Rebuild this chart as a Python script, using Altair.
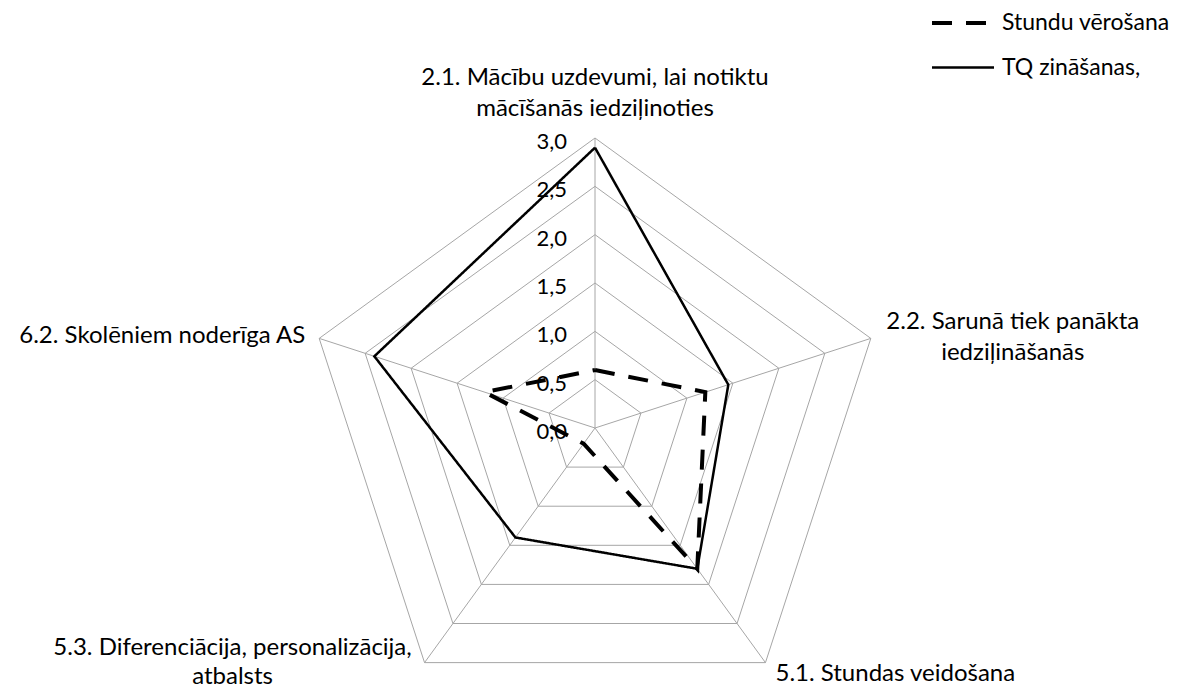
import altair as alt
import pandas as pd
import numpy as np

# ---- data ----
categories = [
    "2.1. Mācību uzdevumi, lai notiktu\nmācīšanās iedziļinoties",
    "2.2. Sarunā tiek panākta\niedziļināšanās",
    "5.1. Stundas veidošana",
    "5.3. Diferenciācija, personalizācija,\natbalsts",
    "6.2. Skolēniem noderīga AS",
]
series_names = ["Stundu vērošana", "TQ zināšanas,"]
stundu_verosana = [0.6, 1.2, 1.8, 0.2, 1.2]
tq_zinasanas = [2.9, 1.45, 1.8, 1.4, 2.4]
tick_values = [0.0, 0.5, 1.0, 1.5, 2.0, 2.5, 3.0]
tick_labels = ["0,0", "0,5", "1,0", "1,5", "2,0", "2,5", "3,0"]
r_max = 3.0

n = len(categories)
angles = [2 * np.pi * k / n for k in range(n)]


def polar(r, k):
    return r * np.sin(angles[k % n]), r * np.cos(angles[k % n])


# series polygons (closed)
rows = []
for name, vals in zip(series_names, [stundu_verosana, tq_zinasanas]):
    for i in range(n + 1):
        x, y = polar(vals[i % n], i)
        rows.append({"series": name, "order": i, "x": x, "y": y})
series_df = pd.DataFrame(rows)

# ring polygons
ring_rows = []
for t in tick_values[1:]:
    for i in range(n + 1):
        x, y = polar(t, i)
        ring_rows.append({"ring": t, "order": i, "x": x, "y": y})
ring_df = pd.DataFrame(ring_rows)

# spokes
spoke_rows = []
for k in range(n):
    x, y = polar(r_max, k)
    spoke_rows.append({"k": k, "x0": 0.0, "y0": 0.0, "x": x, "y": y})
spoke_df = pd.DataFrame(spoke_rows)

# tick labels
tick_df = pd.DataFrame({"x": [0.0] * len(tick_values), "y": tick_values, "label": tick_labels})

# category labels (anchored at axis end)
cat_rows = []
for k, c in enumerate(categories):
    x, y = polar(r_max, k)
    cat_rows.append({"k": k, "x": x, "y": y, "label": c})
cat_df = pd.DataFrame(cat_rows)

# ---- scales ----
px_per_unit = 290 / 3.0
W, H = 1172, 684
cx, cy = 587, 420
xs = alt.Scale(domain=[-cx / px_per_unit, (W - cx) / px_per_unit], nice=False, zero=False)
ys = alt.Scale(domain=[-(H - cy) / px_per_unit, cy / px_per_unit], nice=False, zero=False)

FONT = "Lato"
GRID = "#a6a6a6"
LABEL_SIZE = 24

rings = alt.Chart(ring_df).mark_line(color=GRID, strokeWidth=1).encode(
    x=alt.X("x:Q", scale=xs, axis=None),
    y=alt.Y("y:Q", scale=ys, axis=None),
    detail="ring:N",
    order="order:Q",
)

spokes = alt.Chart(spoke_df).mark_rule(color=GRID, strokeWidth=1).encode(
    x=alt.X("x0:Q", scale=xs, axis=None),
    y=alt.Y("y0:Q", scale=ys, axis=None),
    x2="x:Q",
    y2="y:Q",
)

legend_cfg = dict(
    title=None,
    orient="none",
    legendX=922,
    legendY=-18,
    symbolType="stroke",
    symbolSize=3844,
    symbolStrokeColor="black",
    labelFont=FONT,
    labelFontSize=23,
    labelColor="black",
    rowPadding=-4,
    labelOffset=6,
    labelLimit=300,
)

lines = alt.Chart(series_df).mark_line(color="black", strokeCap="butt").encode(
    x=alt.X("x:Q", scale=xs, axis=None),
    y=alt.Y("y:Q", scale=ys, axis=None),
    strokeDash=alt.StrokeDash(
        "series:N",
        scale=alt.Scale(domain=series_names, range=[[20, 14], [1, 0]]),
        legend=alt.Legend(**legend_cfg),
    ),
    strokeWidth=alt.StrokeWidth(
        "series:N",
        scale=alt.Scale(domain=series_names, range=[4, 2.5]),
        legend=alt.Legend(**legend_cfg),
    ),
    order="order:Q",
)

ticks = alt.Chart(tick_df).mark_text(
    align="right", baseline="middle", dx=-28, dy=4, font=FONT, fontSize=22, color="black"
).encode(
    x=alt.X("x:Q", scale=xs, axis=None),
    y=alt.Y("y:Q", scale=ys, axis=None),
    text="label:N",
)

# offsets of the first text line from each axis end
label_style = {
    0: dict(align="center", dx=0, dy=-60, lineHeight=31),
    1: dict(align="center", dx=142, dy=-16, lineHeight=31),
    2: dict(align="left", dx=10, dy=11, lineHeight=31),
    3: dict(align="center", dx=-192, dy=-15, lineHeight=29),
    4: dict(align="right", dx=-14, dy=-2, lineHeight=31),
}
cat_layers = []
for k, st in label_style.items():
    cat_layers.append(
        alt.Chart(cat_df)
        .transform_filter(alt.datum.k == k)
        .mark_text(baseline="middle", lineBreak="\n", font=FONT,
                   fontSize=LABEL_SIZE, color="black", **st)
        .encode(
            x=alt.X("x:Q", scale=xs, axis=None),
            y=alt.Y("y:Q", scale=ys, axis=None),
            text="label:N",
        )
    )

chart = (
    alt.layer(rings, spokes, lines, ticks, *cat_layers)
    .properties(width=W, height=H, padding=0, autosize=alt.AutoSizeParams(type="none"))
    .configure(background="white")
    .configure_view(stroke=None)
)

chart.save("out.html", embed_options={"renderer": "svg", "actions": False})
